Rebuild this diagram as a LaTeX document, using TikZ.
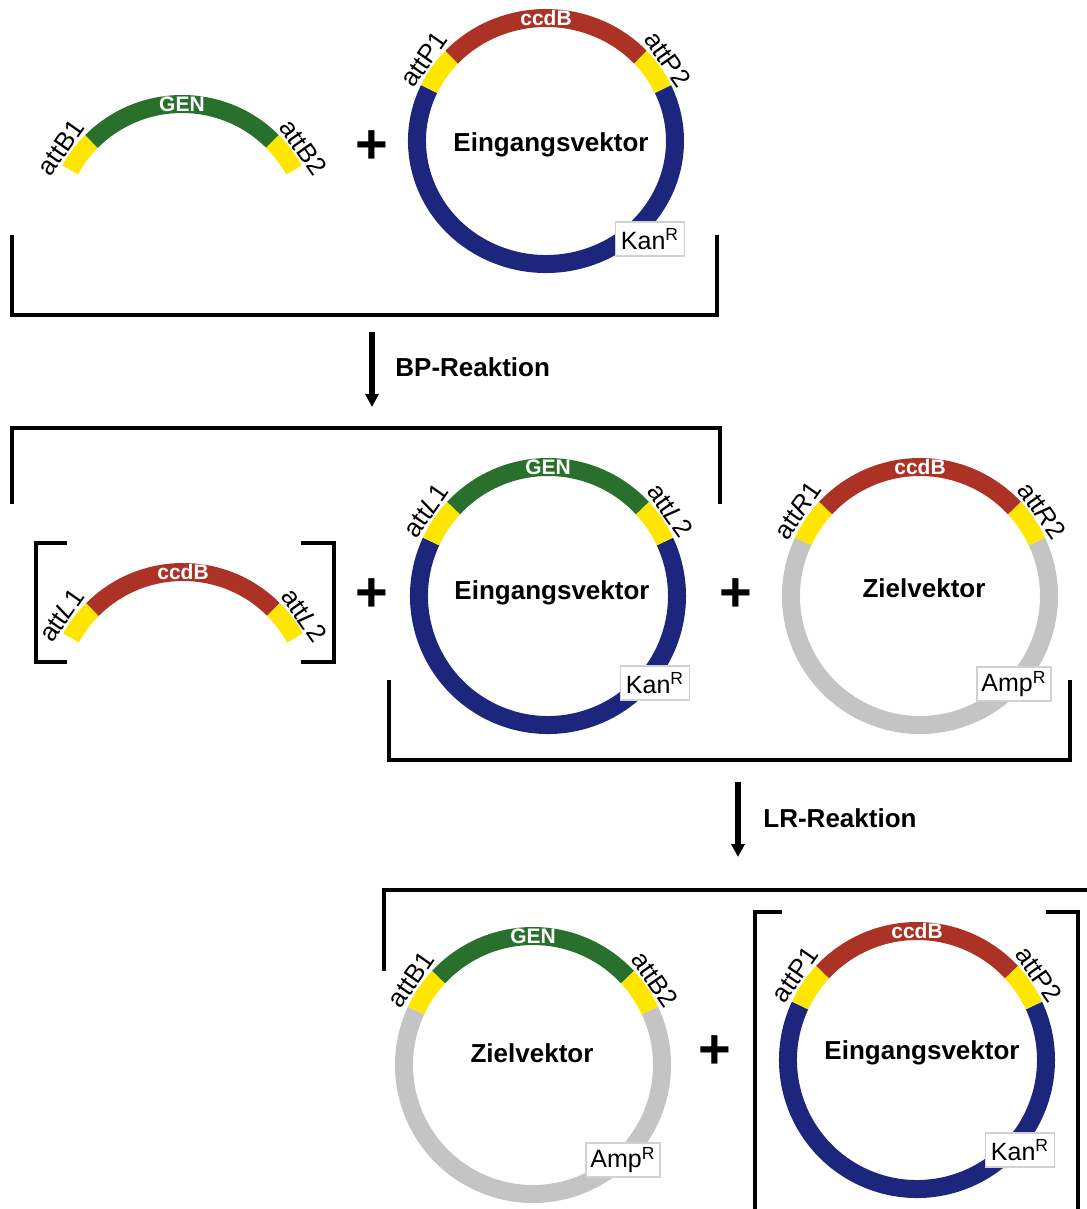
\documentclass[tikz,border=0pt]{standalone}
\usepackage{fontspec}
\setmainfont{Liberation Sans}
\usetikzlibrary{arrows.meta}
\definecolor{navy}{RGB}{27,38,124}
\definecolor{ccdred}{RGB}{172,50,38}
\definecolor{genegreen}{RGB}{42,112,45}
\definecolor{attyellow}{RGB}{255,230,0}
\definecolor{backgray}{RGB}{196,196,196}
\tikzset{
  ring/.style={line width=9pt, line cap=butt},
  lab/.style={font=\fontsize{13}{13}\selectfont, inner sep=0pt},
  title/.style={font=\bfseries\fontsize{13}{13}\selectfont, inner sep=0pt},
  ringtxt/.style={text=white, font=\bfseries\fontsize{10.5}{10.5}\selectfont, inner sep=0pt},
  marker/.style={draw=black!18, fill=white, line width=0.6pt, minimum height=17pt, inner sep=2pt, font=\fontsize{12.5}{12.5}\selectfont},
  brk/.style={line width=2pt, line cap=rect},
  plus/.style={font=\bfseries\fontsize{28}{28}\selectfont, inner sep=0pt},
  reac/.style={line width=2.75pt, -{Triangle[length=6.5pt,width=6.5pt]}},
  reactxt/.style={font=\bfseries\fontsize{13}{13}\selectfont, anchor=west, inner sep=0pt}
}
% #1 name, #2 cx, #3 cy, #4 x radius, #5 y radius, #6 top colour, #7 backbone colour, #8 top text, #9 left/right labels (L|R)
\newcommand\drawPlasmid[9]{%
  \begin{scope}[shift={(#2,-#3)}]
    \draw[ring,#7] (155:#4 and #5) arc[start angle=155,end angle=385,x radius=#4,y radius=#5];
    \draw[ring,attyellow] (137:#4 and #5) arc[start angle=137,end angle=155,x radius=#4,y radius=#5];
    \draw[ring,attyellow] (25:#4 and #5) arc[start angle=25,end angle=43,x radius=#4,y radius=#5];
    \draw[ring,#6] (43:#4 and #5) arc[start angle=43,end angle=137,x radius=#4,y radius=#5];
    \node[ringtxt] (#1-top) at (90:#4 and #5) {#8};
    \edef\tmpargs{#9}%
    \expandafter\splitLabels\tmpargs\relax
    \node[lab, rotate=55] (#1-l) at (145:#4+20 and #5+20) {\leftLab};
    \node[lab, rotate=-55] (#1-r) at (35:#4+20 and #5+20) {\rightLab};
  \end{scope}}
\def\splitLabels#1|#2\relax{\def\leftLab{#1}\def\rightLab{#2}}
% linear fragment: #1 name, #2 cx, #3 cy, #4 colour, #5 text, #6 left label, #7 right label
\newcommand\drawFragment[7]{%
  \begin{scope}[shift={(#2,-#3)}]
    \draw[ring,attyellow] (151:128) arc[start angle=151,end angle=135,radius=128];
    \draw[ring,#4] (135:128) arc[start angle=135,end angle=45,radius=128];
    \draw[ring,attyellow] (45:128) arc[start angle=45,end angle=29,radius=128];
    \node[ringtxt] (#1-top) at (90:128) {#5};
    \node[lab, rotate=55] (#1-l) at (145:148) {#6};
    \node[lab, rotate=-55] (#1-r) at (35:148) {#7};
  \end{scope}}
\begin{document}
\begin{tikzpicture}[x=0.5pt,y=0.5pt]
\useasboundingbox (0,0) rectangle (1086,-1209);

% ---------- Row 1 ----------
\drawFragment{fragA}{182}{232}{genegreen}{GEN}{attB1}{attB2}
\node[plus] (plus1) at (372,-147) {+};
\drawPlasmid{entryA}{546}{141}{129}{123}{ccdred}{navy}{ccdB}{attP1|attP2}
\node[title] (entryA-c) at (551,-145) {Eingangsvektor};
\node[marker, minimum width=34.5pt] (entryA-m) at (650,-239) {Kan\textsuperscript{R}};
\draw[brk] (12,-237) -- (12,-315) -- (717,-315) -- (717,-237);

% BP reaction
\coordinate (bpS) at (372,-332);
\coordinate (bpE) at (372,-407);
\draw[reac] (bpS) -- (bpE);
\node[reactxt] (bpT) at (395,-367) {BP-Reaktion};

% ---------- Row 2 ----------
\draw[brk] (12,-502) -- (12,-428) -- (720,-428) -- (720,-502);
\drawFragment{fragB}{183}{700}{ccdred}{ccdB}{att\textit{L}1}{att\textit{L}2}
\draw[brk] (65,-543) -- (36,-543) -- (36,-662) -- (65,-662);
\draw[brk] (303,-543) -- (334,-543) -- (334,-662) -- (303,-662);
\node[plus] (plus2) at (372,-595) {+};
\drawPlasmid{entryB}{548}{596}{129}{129}{genegreen}{navy}{GEN}{att\noexpand\textit{L}1|att\noexpand\textit{L}2}
\node[title] (entryB-c) at (552,-593) {Eingangsvektor};
\node[marker, minimum width=34.5pt] (entryB-m) at (655,-683) {Kan\textsuperscript{R}};
\node[plus] (plus3) at (736,-595) {+};
\drawPlasmid{destA}{920}{596}{129}{129}{ccdred}{backgray}{ccdB}{att\noexpand\textit{R}1|att\noexpand\textit{R}2}
\node[title] (destA-c) at (924,-588) {Zielvektor};
\node[marker, minimum width=37pt] (destA-m) at (1014,-684) {Amp\textsuperscript{R}};
\draw[brk] (389,-682) -- (389,-760) -- (1070,-760) -- (1070,-682);

% LR reaction
\coordinate (lrS) at (738,-782);
\coordinate (lrE) at (738,-857);
\draw[reac] (lrS) -- (lrE);
\node[reactxt] (lrT) at (763,-818) {LR-Reaktion};

% ---------- Row 3 ----------
\draw[brk] (384,-969) -- (384,-890) -- (1090,-890);
\drawPlasmid{destB}{533}{1065}{129}{129}{genegreen}{backgray}{GEN}{attB1|attB2}
\node[title] (destB-c) at (532,-1053) {Zielvektor};
\node[marker, minimum width=37pt] (destB-m) at (623,-1160) {Amp\textsuperscript{R}};
\node[plus] (plus4) at (715,-1052) {+};
\draw[brk] (780,-912) -- (755,-912) -- (755,-1215);
\draw[brk] (1048,-912) -- (1078,-912) -- (1078,-1215);
\drawPlasmid{entryC}{917}{1060}{129}{129}{ccdred}{navy}{ccdB}{attP1|attP2}
\node[title] (entryC-c) at (922,-1053) {Eingangsvektor};
\node[marker, minimum width=34.5pt] (entryC-m) at (1020,-1150) {Kan\textsuperscript{R}};
\end{tikzpicture}
\end{document}
